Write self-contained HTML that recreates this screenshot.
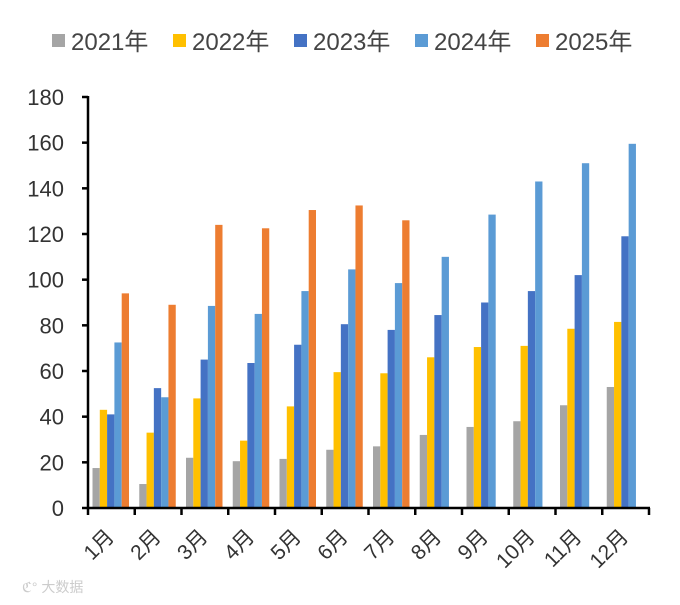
<!DOCTYPE html>
<html><head><meta charset="utf-8"><style>
body{margin:0;background:#fff;width:680px;height:600px;overflow:hidden;font-family:"Liberation Sans","Noto Sans CJK SC",sans-serif}
</style></head><body>
<svg id="chart" width="680" height="600" xmlns="http://www.w3.org/2000/svg" font-family="Liberation Sans, Noto Sans CJK SC, sans-serif">
<g id="legend"></g>
<g id="yaxis"></g>
<g id="bars"></g>
<g id="xaxis"></g>
<text x="22" y="592" font-size="14" fill="#ccc">ℭ° 大数据</text>
</svg>
<script>
const categories=["1月","2月","3月","4月","5月","6月","7月","8月","9月","10月","11月","12月"];
const seriesNames=["2021年","2022年","2023年","2024年","2025年"];
const s2021=[17.5,10.5,22,20.5,21.5,25.5,27,32,35.5,38,45,53];
const s2022=[43,33,48,29.5,44.5,59.5,59,66,70.5,71,78.5,81.5];
const s2023=[41,52.5,65,63.5,71.5,80.5,78,84.5,90,95,102,119];
const s2024=[72.5,48.5,88.5,85,95,104.5,98.5,110,128.5,143,151,159.5];
const s2025=[94,89,124,122.5,130.5,132.5,126];
const yTicks=[0,20,40,60,80,100,120,140,160,180];
const series=[s2021,s2022,s2023,s2024,s2025];
const colors=["#a5a5a5","#ffc000","#4472c4","#5b9bd5","#ed7d31"];
const NS="http://www.w3.org/2000/svg";
const x0=88,x1=649,y0=508,y1=97,yMax=180;
const cw=(x1-x0)/categories.length;
const yS=v=>y0-(v/yMax)*(y0-y1);
const xS=i=>x0+i*cw;
function mk(t,a,p){const e=document.createElementNS(NS,t);for(const k in a)e.setAttribute(k,a[k]);p.appendChild(e);return e;}
const bars=document.getElementById('bars'),ya=document.getElementById('yaxis'),xa=document.getElementById('xaxis'),lg=document.getElementById('legend');
const bw=7.3,off=4.5;
series.forEach((s,si)=>{s.forEach((v,i)=>{
 const r=mk('rect',{x:xS(i)+off+si*bw,y:yS(v),width:bw,height:y0-yS(v),fill:colors[si]},bars);
 
 
});});
mk('line',{x1:x0,y1:y1-1,x2:x0,y2:y0+1,stroke:'#000','stroke-width':2.5},ya);
yTicks.forEach(t=>{
 mk('line',{x1:x0-6,y1:yS(t),x2:x0,y2:yS(t),stroke:'#000','stroke-width':2.5},ya);
 const tx=mk('text',{x:64,y:yS(t)+8,'font-size':22,fill:'#333','text-anchor':'end'},ya);
 tx.textContent=t;
 
 
});
mk('line',{x1:x0-1,y1:y0,x2:x1+1,y2:y0,stroke:'#000','stroke-width':2.5},xa);
for(let i=0;i<=categories.length;i++)mk('line',{x1:xS(i),y1:y0,x2:xS(i),y2:y0+7,stroke:'#000','stroke-width':2.5},xa);
categories.forEach((c,i)=>{
 const cx=xS(i)+cw/2+4,cy=538;
 const tx=mk('text',{x:cx,y:cy,'font-size':21,fill:'#333','text-anchor':'end',transform:`rotate(-45 ${cx} ${cy})`},xa);
 tx.textContent=c;
 
 
});
const lx=[52,173,294,415,536];
seriesNames.forEach((n,i)=>{
 mk('rect',{x:lx[i],y:34,width:13,height:13,fill:colors[i]},lg);
 const tx=mk('text',{x:lx[i]+19,y:50,'font-size':24,fill:'#444'},lg);
 tx.textContent=n;
 
 
});
</script>
</body></html>
